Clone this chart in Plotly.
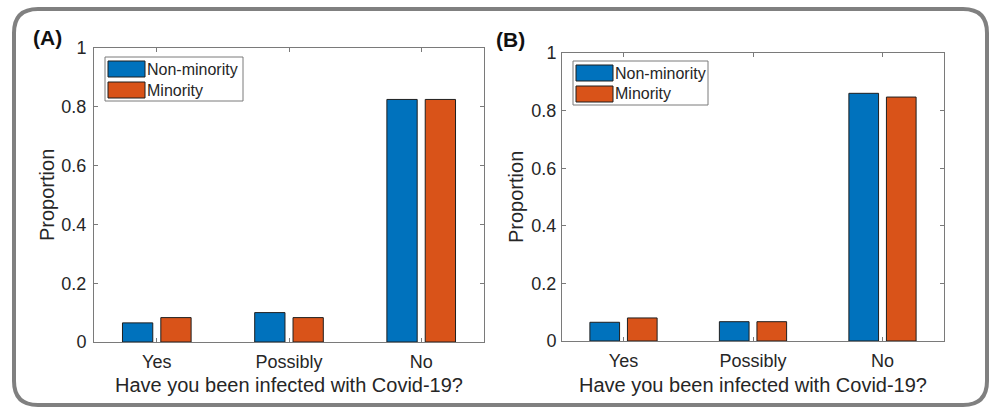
import plotly.graph_objects as go

categories = ["Yes", "Possibly", "No"]
series_names = ["Non-minority", "Minority"]
panel_a_nonminority = [0.065, 0.100, 0.825]
panel_a_minority = [0.083, 0.083, 0.825]
panel_b_nonminority = [0.065, 0.067, 0.860]
panel_b_minority = [0.080, 0.067, 0.847]
y_tick_values = [0, 0.2, 0.4, 0.6, 0.8, 1]
y_tick_labels = ["0", "0.2", "0.4", "0.6", "0.8", "1"]
panel_labels = ["(A)", "(B)"]
x_title = "Have you been infected with Covid-19?"
y_title = "Proportion"

BLUE = "#0072BD"
ORANGE = "#D95319"
EDGE = "#1f1f1f"
AXC = "#7a7a7a"
TXT = "#262626"
FONT = "Liberation Sans, Arial, sans-serif"

W, H = 991, 408


def px(x):
    return x / W


def py(y):
    return 1 - y / H


fig = go.Figure()

panels = [
    ("x", "y", panel_a_nonminority, panel_a_minority),
    ("x2", "y2", panel_b_nonminority, panel_b_minority),
]
for xa, ya, nm, mi in panels:
    fig.add_trace(go.Bar(x=categories, y=nm, name=series_names[0], xaxis=xa, yaxis=ya,
                         marker=dict(color=BLUE, line=dict(color=EDGE, width=1)), showlegend=False))
    fig.add_trace(go.Bar(x=categories, y=mi, name=series_names[1], xaxis=xa, yaxis=ya,
                         marker=dict(color=ORANGE, line=dict(color=EDGE, width=1)), showlegend=False))

# axes geometry in pixels
geo = {
    "A": dict(x0=94, x1=484, y0=48, y1=342),
    "B": dict(x0=562, x1=944, y0=53, y1=341),
}

common_x = dict(
    type="category", range=[-0.475, 2.475], showline=True, linecolor=AXC, linewidth=1,
    mirror="ticks", ticks="inside", ticklen=4, tickcolor=AXC, showgrid=False, zeroline=False,
    tickfont=dict(family=FONT, size=18, color=TXT), ticklabelstandoff=3, automargin=False,
)
common_y = dict(
    range=[0, 1], tickvals=y_tick_values, ticktext=y_tick_labels, showline=True, linecolor=AXC,
    linewidth=1, mirror="ticks", ticks="inside", ticklen=4, tickcolor=AXC, showgrid=False,
    zeroline=False, tickfont=dict(family=FONT, size=18, color=TXT), automargin=False,
)

ga, gb = geo["A"], geo["B"]
fig.update_layout(
    xaxis=dict(common_x, domain=[px(ga["x0"]), px(ga["x1"])], anchor="y"),
    yaxis=dict(common_y, domain=[py(ga["y1"]), py(ga["y0"])], anchor="x", ticklabelstandoff=3),
    xaxis2=dict(common_x, domain=[px(gb["x0"]), px(gb["x1"])], anchor="y2"),
    yaxis2=dict(common_y, domain=[py(gb["y1"]), py(gb["y0"])], anchor="x2", ticklabelstandoff=1),
    barmode="group", bargap=0.42, bargroupgap=0.21,
    width=W, height=H, autosize=False,
    margin=dict(l=0, r=0, t=0, b=0, pad=0),
    paper_bgcolor="white", plot_bgcolor="white",
    font=dict(family=FONT, color=TXT),
    showlegend=False,
)

shapes = []
annotations = []

# outer rounded frame
fl, ft, fr, fb, r = 14, 9, 987, 405, 24
path = (
    f"M {px(fl + r)},{py(ft)} L {px(fr - r)},{py(ft)} "
    f"Q {px(fr)},{py(ft)} {px(fr)},{py(ft + r)} L {px(fr)},{py(fb - r)} "
    f"Q {px(fr)},{py(fb)} {px(fr - r)},{py(fb)} L {px(fl + r)},{py(fb)} "
    f"Q {px(fl)},{py(fb)} {px(fl)},{py(fb - r)} L {px(fl)},{py(ft + r)} "
    f"Q {px(fl)},{py(ft)} {px(fl + r)},{py(ft)} Z"
)
shapes.append(dict(type="path", path=path, xref="paper", yref="paper",
                   line=dict(color="#808080", width=4), layer="below"))

# axis titles
for g, ycx in [(ga, 47), (gb, 516)]:
    annotations.append(dict(text=x_title, xref="paper", yref="paper",
                            x=px((g["x0"] + g["x1"]) / 2), y=py(385), xanchor="center", yanchor="middle",
                            showarrow=False, font=dict(family=FONT, size=20, color=TXT)))
    annotations.append(dict(text=y_title, xref="paper", yref="paper", textangle=-90,
                            x=px(ycx), y=py((g["y0"] + g["y1"]) / 2), xanchor="center", yanchor="middle",
                            showarrow=False, font=dict(family=FONT, size=20, color=TXT)))

# legends (drawn manually to mimic the wide MATLAB swatches)
legend_boxes = [
    dict(x0=105, y0=57, x1=243, y1=101),
    dict(x0=573, y0=61, x1=708, y1=105),
]
colors = [BLUE, ORANGE]
for lb in legend_boxes:
    shapes.append(dict(type="rect", xref="paper", yref="paper",
                       x0=px(lb["x0"]), x1=px(lb["x1"]), y0=py(lb["y1"]), y1=py(lb["y0"]),
                       line=dict(color=AXC, width=1), fillcolor="white"))
    for i, (name, col) in enumerate(zip(series_names, colors)):
        sy0 = lb["y0"] + 4 + i * 21
        shapes.append(dict(type="rect", xref="paper", yref="paper",
                           x0=px(lb["x0"] + 3), x1=px(lb["x0"] + 40),
                           y0=py(sy0 + 16), y1=py(sy0),
                           line=dict(color=EDGE, width=1), fillcolor=col))
        annotations.append(dict(text=name, xref="paper", yref="paper",
                                x=px(lb["x0"] + 40), y=py(sy0 + 8), xanchor="left", yanchor="middle",
                                showarrow=False, font=dict(family=FONT, size=16, color=TXT)))

# panel labels
for lab, (lx, ly) in zip(panel_labels, [(31, 37), (494, 40)]):
    annotations.append(dict(text=f"<b>{lab}</b>", xref="paper", yref="paper", x=px(lx), y=py(ly),
                            xanchor="left", yanchor="middle", showarrow=False,
                            font=dict(family=FONT, size=21, color="#111")))

fig.update_layout(shapes=shapes, annotations=annotations)

fig.write_html("out.html")
